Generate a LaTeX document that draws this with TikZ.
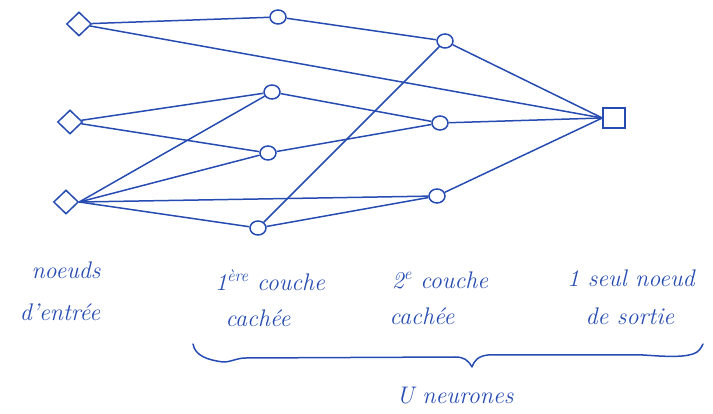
\documentclass[tikz,border=0pt]{standalone}
\usetikzlibrary{shapes.geometric}
\definecolor{ink}{RGB}{38,76,178}
\begin{document}
\begin{tikzpicture}[x=1pt,y=-1pt,
  wire/.style={draw=ink,line width=1.5pt},
  inp/.style={diamond,draw=ink,line width=1.5pt,minimum width=25pt,minimum height=24pt,inner sep=0pt},
  hid/.style={ellipse,draw=ink,line width=1.5pt,minimum width=16pt,minimum height=14pt,inner sep=0pt},
  outp/.style={rectangle,draw=ink,line width=1.5pt,minimum width=22pt,minimum height=20pt,inner sep=0pt},
  lbl/.style={text=ink,inner sep=0pt,font=\fontsize{24}{26}\selectfont\itshape}]
\useasboundingbox (0,0) rectangle (713,414);

% input nodes
\node[inp] (i1) at (79,24) {};
\node[inp] (i2) at (70,122) {};
\node[inp] (i3) at (66,202) {};
% first hidden layer
\node[hid] (a1) at (278,17) {};
\node[hid] (a2) at (272,92) {};
\node[hid] (a3) at (268,153) {};
\node[hid] (a4) at (258,228) {};
% second hidden layer
\node[hid] (b1) at (445,41) {};
\node[hid] (b2) at (440,123) {};
\node[hid] (b3) at (437,196) {};
% output
\node[outp] (o) at (614,118) {};

% connections
\draw[wire] (i1) -- (a1);
\draw[wire] (i1) -- (o.west);
\draw[wire] (i2) -- (a2);
\draw[wire] (i2) -- (a3);
\draw[wire] (i3.east) -- (a2);
\draw[wire] (i3.east) -- (a3);
\draw[wire] (i3.east) -- (b3);
\draw[wire] (i3.east) -- (a4);
\draw[wire] (a1) -- (b1);
\draw[wire] (a2) -- (b2);
\draw[wire] (a3) -- (b2);
\draw[wire] (a4) -- (b1);
\draw[wire] (a4) -- (b3);
\draw[wire] (b1) -- (o.west);
\draw[wire] (b2) -- (o.west);
\draw[wire] (b3) -- (o.west);

% labels
\node[lbl] (t1) at (66,270) {noeuds};
\node[lbl] (t2) at (60,312) {d'entrée};
\node[lbl] (t3) at (270,280) {1\textsuperscript{ère} couche};
\node[lbl] (t4) at (258,318) {cachée};
\node[lbl] (t5) at (440,280) {2\textsuperscript{e} couche};
\node[lbl] (t6) at (422,316) {cachée};
\node[lbl] (t7) at (631,278) {1 seul noeud};
\node[lbl] (t8) at (630,316) {de sortie};
\node[lbl] (t9) at (455,396) {U neurones};

% brace over the layers
\coordinate (bl) at (193,344);
\coordinate (bt) at (472,367);
\coordinate (br) at (703,344);
\draw[wire,line cap=round,line join=round]
  (bl) .. controls (195,356) and (208,360) .. (223,362)
  .. controls (232,362) and (236,358) .. (246,358)
  -- (455,357) .. controls (464,357) and (468,360) .. (bt)
  .. controls (474,361) and (478,356) .. (488,355)
  -- (643,355) .. controls (660,356) and (680,358) .. (693,354)
  .. controls (699,352) and (701,348) .. (br);
\end{tikzpicture}
\end{document}
